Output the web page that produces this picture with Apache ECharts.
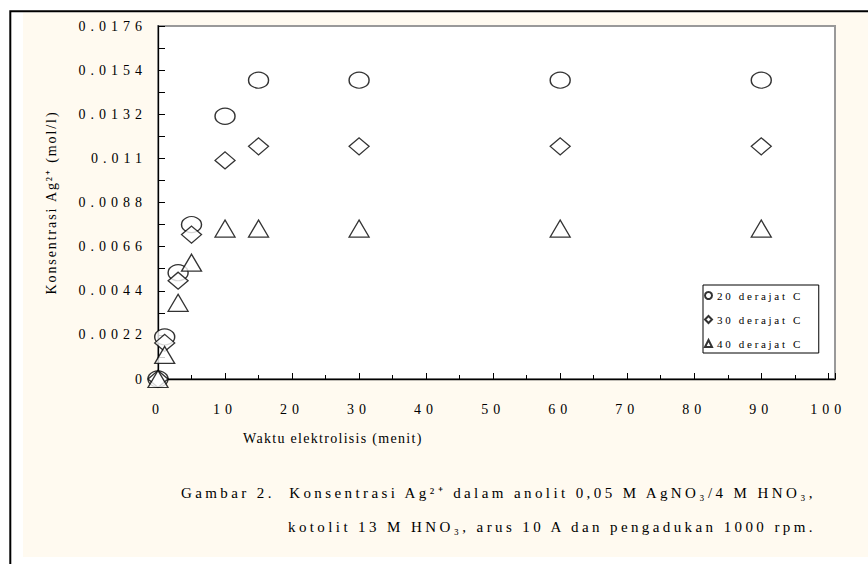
<!DOCTYPE html>
<html>
<head>
<meta charset="utf-8">
<script src="https://cdn.jsdelivr.net/npm/echarts@6/dist/echarts.min.js"></script>
<style>
  html, body { margin: 0; padding: 0; background: #fff; }
  #chart { width: 868px; height: 564px; }
  /* the original figure has very loose letter spacing */
  #chart text[style*="tickf"] { letter-spacing: 5px; }
  #chart text[style*="capf"] { letter-spacing: 3.4px; }
  #chart text[style*="xnamef"] { letter-spacing: 1.3px; }
  #chart text[style*="ynamef"] { letter-spacing: 1.9px; }
  #chart text[style*="legf"] { letter-spacing: 2.7px; }
</style>
</head>
<body>
<div id="chart"></div>
<script>
// waktu elektrolisis (menit)
const times = [0, 1, 3, 5, 10, 15, 30, 60, 90];
// konsentrasi Ag2+ (mol/l)
const conc20 = [0, 0.0021, 0.0053, 0.0077, 0.0131, 0.0149, 0.0149, 0.0149, 0.0149];
const conc30 = [0, 0.0018, 0.0049, 0.0072, 0.0109, 0.0116, 0.0116, 0.0116, 0.0116];
const conc40 = [0, 0.0012, 0.0038, 0.0058, 0.0075, 0.0075, 0.0075, 0.0075, 0.0075];
const seriesNames = ["20 derajat C", "30 derajat C", "40 derajat C"];

const xTitle = "Waktu elektrolisis (menit)";
const yTitle = "Konsentrasi Ag²⁺ (mol/l)";
const caption1 = "Gambar 2.  Konsentrasi Ag²⁺ dalam anolit 0,05 M AgNO₃/4 M HNO₃,";
const caption2 = "kotolit 13 M HNO₃, arus 10 A dan pengadukan 1000 rpm.";

const serif = "'Liberation Serif'";

function makeSeries(name, values, symbol, size) {
  return {
    name: name,
    type: "scatter",
    symbol: symbol,
    symbolSize: size,
    data: times.map((t, i) => [t, values[i]]),
    itemStyle: { color: "#fff", borderColor: "#000", borderWidth: 1.3 },
    emphasis: { disabled: true },
  };
}

const chart = echarts.init(document.getElementById("chart"), null, { renderer: "svg" });
chart.setOption({
  animation: false,
  backgroundColor: "#fff",
  grid: {
    left: 158,
    right: 33,
    top: 26,
    bottom: 185,
    show: true,
    backgroundColor: "#fff",
    borderColor: "#999",
    borderWidth: 2,
  },
  legend: {
    orient: "vertical",
    left: 703,
    top: 285,
    padding: [5, 48, 4, 1],
    itemWidth: 7,
    itemHeight: 7,
    itemGap: 13,
    backgroundColor: "#fff",
    borderColor: "#000",
    borderWidth: 1,
    borderRadius: 0,
    textStyle: { fontFamily: serif + ", legf", fontSize: 11, color: "#000" },
    data: seriesNames,
  },
  xAxis: {
    type: "value",
    min: 0,
    max: 101,
    interval: 10,
    splitLine: { show: false },
    axisLine: { lineStyle: { color: "#000", width: 1.3 } },
    axisTick: { inside: true, length: 6, lineStyle: { color: "#000" } },
    minorTick: { show: true, splitNumber: 2, length: 4, lineStyle: { color: "#000" } },
    axisLabel: {
      margin: 23,
      color: "#000",
      fontSize: 14,
      fontFamily: serif + ", tickf",
      showMaxLabel: false,
      formatter: (v) => (v % 10 === 0 ? String(v) : ""),
    },
  },
  yAxis: {
    type: "value",
    min: 0,
    max: 0.0176,
    interval: 0.0022,
    name: yTitle,
    nameLocation: "middle",
    nameRotate: 90,
    nameGap: 100,
    nameTextStyle: { fontFamily: serif + ", ynamef", fontSize: 14, color: "#000" },
    splitLine: { show: false },
    axisLine: { lineStyle: { color: "#000", width: 1.3 } },
    axisTick: { inside: true, length: 7, lineStyle: { color: "#000" } },
    minorTick: { show: true, splitNumber: 2, length: 7, lineStyle: { color: "#000" } },
    axisLabel: {
      margin: 11,
      color: "#000",
      fontSize: 14,
      fontFamily: serif + ", tickf",
    },
  },
  graphic: [
    {
      type: "rect",
      z: -10,
      silent: true,
      shape: { x: 23, y: 12.5, width: 845, height: 544.5 },
      style: { fill: "#fffaf0" },
    },
    {
      type: "rect",
      z: 100,
      silent: true,
      shape: { x: 10.3, y: 11.3, width: 900, height: 700 },
      style: { fill: "none", stroke: "#000", lineWidth: 2 },
    },
    {
      type: "text",
      x: 243,
      y: 438,
      style: { text: xTitle, font: "14px " + serif + ", xnamef", fill: "#000", verticalAlign: "middle" },
    },
    {
      type: "text",
      x: 181,
      y: 493,
      style: { text: caption1, font: "15px " + serif + ", capf", fill: "#000", verticalAlign: "middle" },
    },
    {
      type: "text",
      x: 288,
      y: 527,
      style: { text: caption2, font: "15px " + serif + ", capf", fill: "#000", verticalAlign: "middle" },
    },
  ],
  series: [
    makeSeries(seriesNames[0], conc20, "circle", [20, 16]),
    makeSeries(seriesNames[1], conc30, "diamond", [20, 17]),
    makeSeries(seriesNames[2], conc40, "triangle", [20, 17]),
  ],
});
</script>
</body>
</html>
